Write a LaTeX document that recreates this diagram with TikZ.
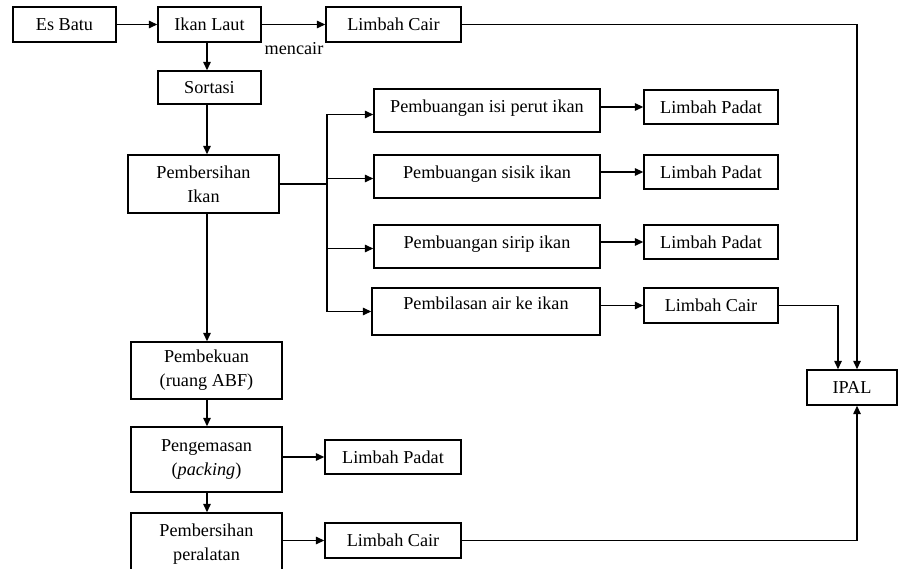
\documentclass[tikz,border=0pt]{standalone}
\usepackage{fontspec}
\setmainfont{Liberation Serif}
\usetikzlibrary{arrows.meta}
\begin{document}
\begin{tikzpicture}[x=1pt,y=-1pt,
  txt/.style={font=\fontsize{18.2}{24}\selectfont, align=center},
  box/.style={draw, line width=1.4pt, rectangle, inner sep=0pt, txt},
  arr/.style={line width=1.4pt, -{Triangle[length=8.5pt,width=7.5pt]}},
  ln/.style={line width=1.4pt}]
\useasboundingbox (0,0) rectangle (899,569);
\clip (0,0) rectangle (899,569);
% nodes
\node[box, minimum width=103pt, minimum height=35pt] (esbatu) at (64.5,24.5) {Es Batu};
\node[box, minimum width=103pt, minimum height=35pt] (ikan) at (209.5,24.5) {Ikan Laut};
\node[box, minimum width=135pt, minimum height=35pt] (lc1) at (393.5,24.5) {Limbah Cair};
\node[txt] (mencair) at (294,49) {mencair};
\node[box, minimum width=103pt, minimum height=33pt] (sortasi) at (209.5,87.5) {Sortasi};
\node[box, minimum width=151pt, minimum height=58pt] (bersih) at (203.5,184) {Pembersihan\\Ikan};
\node[box, minimum width=226pt, minimum height=43pt, text depth=9pt] (p1) at (487,110.5) {Pembuangan isi perut ikan};
\node[box, minimum width=226pt, minimum height=43pt, text depth=9pt] (p2) at (487,176.5) {Pembuangan sisik ikan};
\node[box, minimum width=226pt, minimum height=43pt, text depth=9pt] (p3) at (487,246.5) {Pembuangan sirip ikan};
\node[box, minimum width=228pt, minimum height=47pt, text depth=16pt] (p4) at (486,311.5) {Pembilasan air ke ikan};
\node[box, minimum width=134pt, minimum height=34pt] (lp1) at (711,107) {Limbah Padat};
\node[box, minimum width=134pt, minimum height=34pt] (lp2) at (711,172) {Limbah Padat};
\node[box, minimum width=134pt, minimum height=34pt] (lp3) at (711,242) {Limbah Padat};
\node[box, minimum width=134pt, minimum height=35pt] (lc2) at (711,305.5) {Limbah Cair};
\node[box, minimum width=90pt, minimum height=35pt] (ipal) at (852,387.5) {IPAL};
\node[box, minimum width=151pt, minimum height=57pt] (beku) at (206.5,370.5) {Pembekuan\\(ruang ABF)};
\node[box, minimum width=151pt, minimum height=65pt] (kemas) at (206.5,459.5) {Pengemasan\\(\textit{packing})};
\node[box, minimum width=151pt, minimum height=67pt] (alat) at (206.5,546.5) {};
\node[txt] (alattxt) at (206.5,544) {Pembersihan\\peralatan};
\node[box, minimum width=136pt, minimum height=34pt] (lp4) at (393,457) {Limbah Padat};
\node[box, minimum width=136pt, minimum height=35pt] (lc3) at (393,540.5) {Limbah Cair};
% helper coordinates
\coordinate (colx) at (207,0);
\coordinate (bx) at (327,0);
% connectors
\draw[arr] (esbatu) -- (ikan);
\draw[arr] (ikan) -- (lc1);
\draw[arr] (ikan.south -| colx) -- (sortasi.north -| colx);
\draw[arr] (sortasi.south -| colx) -- (bersih.north -| colx);
\draw[arr] (bersih.south -| colx) -- (beku.north -| colx);
\draw[arr] (beku.south -| colx) -- (kemas.north -| colx);
\draw[arr] (kemas.south -| colx) -- (alat.north -| colx);
\draw[ln] (bersih.east) -- (bersih.east -| bx);
\draw[ln] ([yshift=-4pt]p1.west -| bx) -- (p4.west -| bx);
\draw[arr] ([yshift=-4pt]p1.west -| bx) -- ([yshift=-4pt]p1.west);
\draw[arr] ([yshift=-2pt]p2.west -| bx) -- ([yshift=-2pt]p2.west);
\draw[arr] ([yshift=-2pt]p3.west -| bx) -- ([yshift=-2pt]p3.west);
\draw[arr] (p4.west -| bx) -- (p4.west);
\draw[arr] (p1.east |- lp1.west) -- (lp1.west);
\draw[arr] (p2.east |- lp2.west) -- (lp2.west);
\draw[arr] (p3.east |- lp3.west) -- (lp3.west);
\draw[arr] (p4.east |- lc2.west) -- (lc2.west);
\draw[arr] (kemas.east |- lp4.west) -- (lp4.west);
\draw[arr] (alat.east |- lc3.west) -- (lc3.west);
\draw[arr] (lc1.east) -| ([xshift=5pt]ipal.north);
\draw[arr] (lc2.east) -| ([xshift=-14pt]ipal.north);
\draw[arr] (lc3.east) -| ([xshift=5pt]ipal.south);
\end{tikzpicture}
\end{document}
